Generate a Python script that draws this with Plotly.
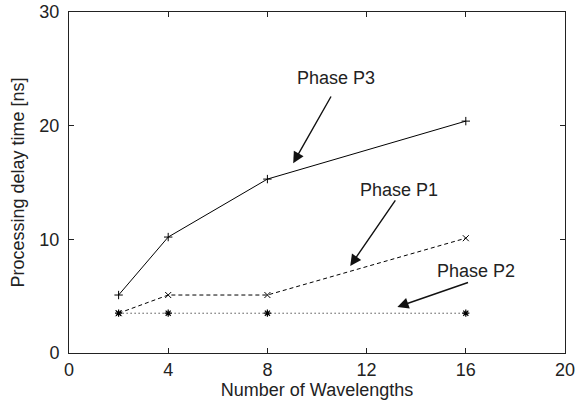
import plotly.graph_objects as go

wavelengths = [2, 4, 8, 16]
phase_p3 = [5.1, 10.2, 15.3, 20.4]
phase_p1 = [3.5, 5.1, 5.1, 10.1]
phase_p2 = [3.5, 3.5, 3.5, 3.5]

x_ticks = [0, 4, 8, 12, 16, 20]
y_ticks = [0, 10, 20, 30]

FONT = "Liberation Sans, Arial, Helvetica, sans-serif"
fig = go.Figure()
fig.add_trace(go.Scatter(x=wavelengths, y=phase_p3, mode="lines+markers", name="Phase P3",
                         line=dict(color="black", width=1, dash="solid"),
                         marker=dict(symbol="cross-thin", size=6, line=dict(color="black", width=1))))
fig.add_trace(go.Scatter(x=wavelengths, y=phase_p1, mode="lines+markers", name="Phase P1",
                         line=dict(color="black", width=1, dash="4px,3px"),
                         marker=dict(symbol="x-thin", size=6, line=dict(color="black", width=1))))
fig.add_trace(go.Scatter(x=wavelengths, y=phase_p2, mode="lines+markers", name="Phase P2",
                         line=dict(color="black", width=1, dash="1px,3px"),
                         marker=dict(symbol="asterisk", size=6, line=dict(color="black", width=1.2))))

# text labels
labels = [("Phase P3", 10.75, 24.2), ("Phase P1", 13.3, 14.35), ("Phase P2", 16.4, 7.2)]
for t, x, y in labels:
    fig.add_annotation(x=x, y=y, text=t, showarrow=False, xref="x", yref="y",
                       font=dict(family=FONT, size=18, color="#222"))
# arrows (head, tail)
arrows = [((9.04, 16.7), (10.6, 22.7)), ((11.34, 7.66), (13.2, 13.56)), ((13.24, 4.05), (16.15, 6.25))]
for (hx, hy), (tx, ty) in arrows:
    fig.add_annotation(x=hx, y=hy, ax=tx, ay=ty, axref="x", ayref="y", xref="x", yref="y",
                       text="", showarrow=True, arrowhead=2, arrowsize=1.6, arrowwidth=1.4,
                       arrowcolor="#111")

axis_common = dict(showgrid=False, zeroline=False, showline=True, linecolor="#222", linewidth=1,
                   mirror="ticks", ticks="inside", ticklen=5, tickcolor="#222", automargin=False,
                   ticklabeloverflow="allow",
                   tickfont=dict(family=FONT, size=18, color="#222"))
fig.update_xaxes(range=[0, 20], tickvals=x_ticks,
                 title=dict(text="Number of Wavelengths", font=dict(family=FONT, size=18, color="#222"), standoff=0),
                 **axis_common)
fig.update_yaxes(range=[0, 30], tickvals=y_ticks, ticklabelstandoff=5,
                 title=dict(text="Processing delay time [ns]", font=dict(family=FONT, size=18, color="#222"), standoff=10),
                 **axis_common)
fig.update_layout(width=575, height=412, margin=dict(l=69, r=10, t=12, b=59),
                  plot_bgcolor="white", paper_bgcolor="white", showlegend=False)
fig.write_html("out.html", config={"displayModeBar": False},
               post_script="document.body.style.margin='0';document.body.style.overflow='hidden';")
